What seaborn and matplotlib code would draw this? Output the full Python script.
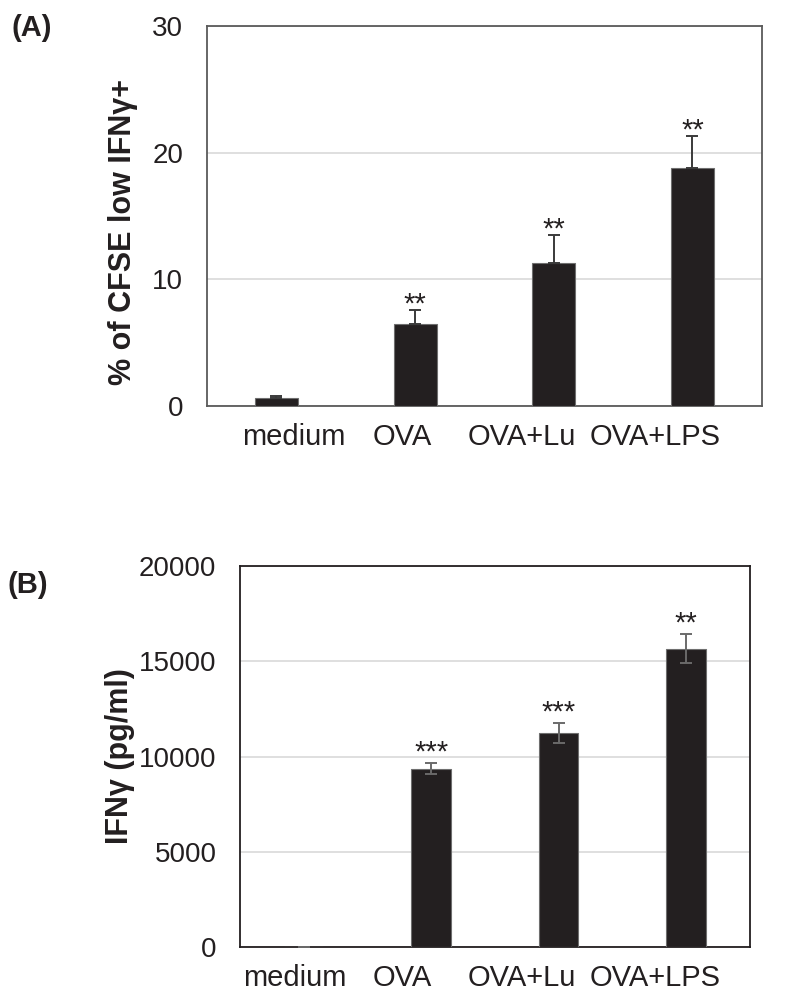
import seaborn as sns
import pandas as pd
import matplotlib.pyplot as plt

# data
groups = ['medium', 'OVA', 'OVA+Lu', 'OVA+LPS']

cfse_mean = [0.66, 6.47, 11.26, 18.76]
cfse_err = [0.13, 1.1, 2.24, 2.55]
cfse_sig = ['', '**', '**', '**']

ifn_mean = [10, 9350, 11240, 15660]
ifn_err = [0, 285, 525, 756]
ifn_sig = ['', '***', '***', '**']

sns.set_style('white')
plt.rcParams['font.family'] = ['Liberation Sans', 'DejaVu Sans']

fig = plt.figure(figsize=(7.96, 9.99), dpi=100)
ax1 = fig.add_axes([0.260, 0.5936, 0.697, 0.3804])
ax2 = fig.add_axes([0.3015, 0.052, 0.6405, 0.3814])

bar_col = '#231f20'


def panel(ax, mean, err, sig, ylim, step, ylabel, errcol, two_sided, spine_col,
          gap, label_shift, label_xy):
    df = pd.DataFrame({'group': groups, 'value': mean})
    sns.barplot(data=df, x='group', y='value', ax=ax, color=bar_col,
                width=0.31, errorbar=None, edgecolor='#6e6e6e', linewidth=0.8,
                saturation=1, zorder=3)
    lower = err if two_sided else [0] * len(err)
    ax.errorbar(range(len(groups)), mean, yerr=[lower, err], fmt='none',
                ecolor=errcol, elinewidth=1.4, capsize=4.5, capthick=1.4, zorder=4)
    for i, s in enumerate(sig):
        if s:
            ax.annotate(s, (i, mean[i] + err[i]), xytext=(0, gap),
                        textcoords='offset points', ha='center', va='baseline',
                        fontsize=21, color='#231f20')
    # category labels sit a little off the bar centres in the original
    ax.set_xticks([i + d for i, d in enumerate(label_shift)])
    ax.set_xticklabels(groups)
    ax.set_xlim(-0.5, len(groups) - 0.5)
    ax.set_ylim(*ylim)
    ax.set_yticks(range(ylim[0], ylim[1] + 1, step))
    ax.yaxis.grid(True, color='#d9d9d9', linewidth=1.2, zorder=0)
    ax.set_axisbelow(True)
    ax.tick_params(axis='y', length=0, pad=17, labelsize=20, labelcolor='#231f20')
    ax.tick_params(axis='x', length=0, pad=12, labelsize=21, labelcolor='#231f20')
    ax.set_xlabel('')
    ax.set_ylabel(ylabel, fontsize=22, fontweight='bold', color='#231f20')
    ax.yaxis.set_label_coords(*label_xy)
    for sp in ax.spines.values():
        sp.set_visible(True)
        sp.set_color(spine_col)
        sp.set_linewidth(1.3)


panel(ax1, cfse_mean, cfse_err, cfse_sig, (0, 30), 10,
      '% of CFSE low IFNγ+', '#3a3a3a', False, '#5a5a5a', -2,
      [0.126, -0.094, -0.227, -0.267], (-0.124, 0.458))
panel(ax2, ifn_mean, ifn_err, ifn_sig, (0, 20000), 5000,
      'IFNγ (pg/ml)', '#6a6a6a', True, '#231f20', 2,
      [-0.069, -0.23, -0.29, -0.24], (-0.206, 0.5))

fig.text(0.040, 0.972, '(A)', fontsize=21, fontweight='bold', color='#231f20',
         ha='center', va='center')
fig.text(0.035, 0.414, '(B)', fontsize=21, fontweight='bold', color='#231f20',
         ha='center', va='center')

fig.savefig('out.png', dpi=100)
